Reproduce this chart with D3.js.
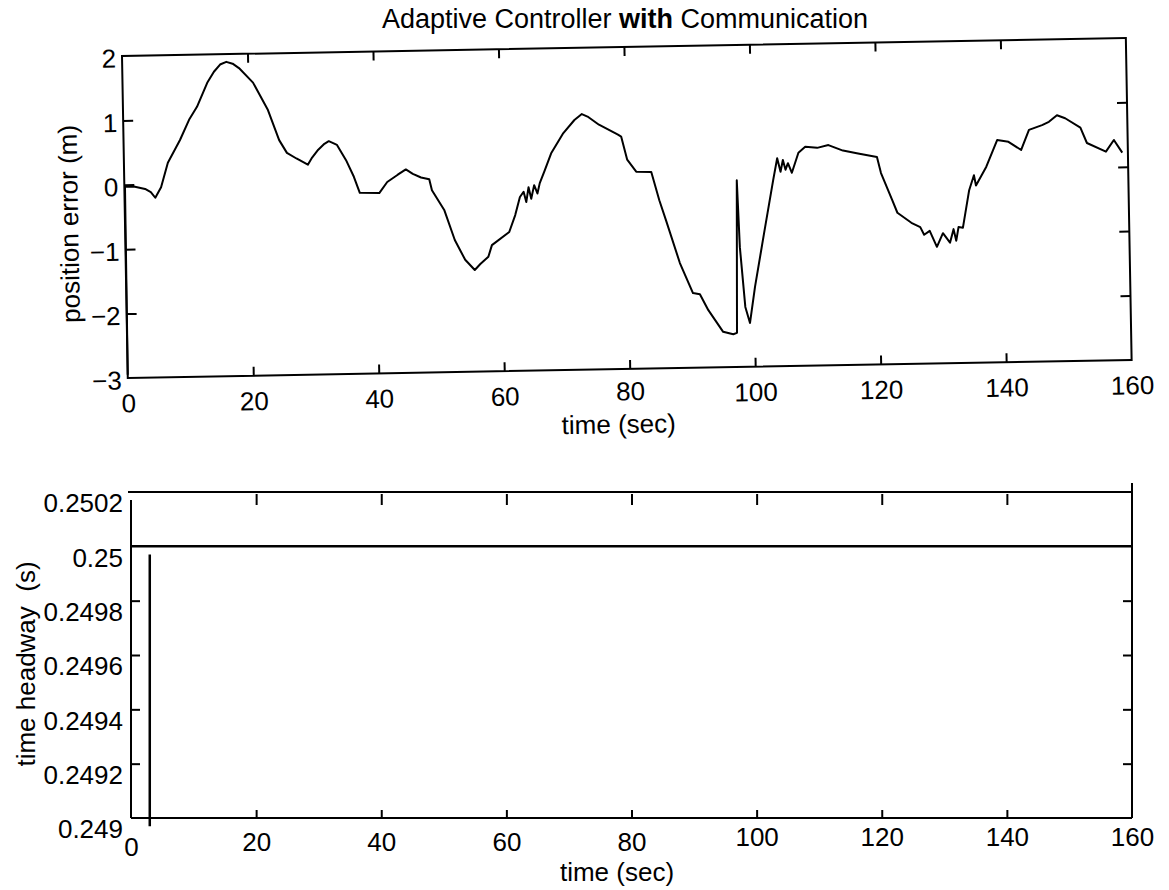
<!DOCTYPE html>
<html>
<head>
<meta charset="utf-8">
<script src="https://cdn.jsdelivr.net/npm/d3@7"></script>
<style>
  body { margin: 0; background: #fff; }
  text { font-family: "Liberation Sans", Arial, Helvetica, sans-serif; fill: #000; }
</style>
</head>
<body>
<div id="chart"></div>
<script>
// time axis ticks shared by both panels
const timeTicks = [0, 20, 40, 60, 80, 100, 120, 140, 160];

// top panel: position error (m) against time (sec)
const errTime = [0, 0.1, 1.5, 3.3, 4.2, 4.9, 5.85, 7.0, 9.0, 10.5, 11.8, 13.5, 14.6, 15.6, 16.6, 17.6, 18.6,
  20.8, 23.1, 24.8, 26.0, 27.5, 29.3, 30.0, 31.0, 32.0, 32.7, 34.0, 35.4, 36.6, 37.5, 40.6, 41.9, 43.6, 44.9,
  46.0, 47.3, 48.6, 49.0, 50.9, 52.5, 54.1, 55.6, 56.5, 57.8, 58.4, 61.2, 62.2, 63.0, 63.6, 64.0, 64.4, 64.8,
  65.3, 65.8, 66.2, 67.0, 68.1, 70.1, 71.9, 73.1, 74.0, 75.8, 78.8, 79.3, 80.2, 81.6, 84.0, 85.2, 86.2, 88.3,
  90.3, 91.4, 92.7, 95.0, 96.6, 97.2, 97.6, 97.9, 98.6, 99.3, 100.2, 101.8, 103.4, 104.1, 104.6, 105.0, 105.4,
  105.8, 106.4, 107.5, 108.6, 110.5, 112.3, 114.6, 117.0, 120.0, 120.6, 122.3, 123.1, 125.3, 126.7, 127.3,
  128.2, 129.3, 130.3, 131.4, 132.0, 132.4, 132.8, 133.5, 134.6, 135.4, 135.7, 137.4, 139.2, 141.0, 143.0,
  144.3, 146.4, 147.5, 148.8, 150.1, 152.5, 153.5, 156.5, 157.8, 159.1];
const errValue = [-2.95, -0.03, -0.03, -0.07, -0.12, -0.21, -0.05, 0.33, 0.68, 0.99, 1.19, 1.56, 1.73, 1.84, 1.88, 1.85, 1.78,
  1.55, 1.12, 0.65, 0.45, 0.36, 0.26, 0.37, 0.49, 0.58, 0.62, 0.56, 0.32, 0.06, -0.19, -0.2, -0.03, 0.08, 0.16,
  0.09, 0.03, 0.0, -0.17, -0.48, -0.95, -1.26, -1.42, -1.33, -1.22, -1.04, -0.84, -0.58, -0.3, -0.22, -0.38, -0.15, -0.33,
  -0.12, -0.25, -0.09, 0.1, 0.37, 0.68, 0.88, 0.97, 0.93, 0.80, 0.64, 0.61, 0.25, 0.06, 0.05, -0.39, -0.70, -1.37,
  -1.84, -1.86, -2.11, -2.45, -2.49, -2.47, -0.1, -1.14, -2.07, -2.32, -1.76, -0.93, -0.11, 0.23, 0.02, 0.2, 0.05,
  0.15, 0.0, 0.31, 0.40, 0.38, 0.42, 0.33, 0.28, 0.22, -0.03, -0.45, -0.65, -0.81, -0.88, -1.0,
  -0.94, -1.19, -0.98, -1.13, -0.92, -1.1, -0.89, -0.90, -0.32, -0.09, -0.25, 0.04, 0.45, 0.42, 0.29,
  0.60, 0.67, 0.72, 0.82, 0.77, 0.62, 0.38, 0.24, 0.42, 0.22];
const errTicks = [2, 1, 0, -1, -2, -3];

// bottom panel: time headway (s)
const headwayTicks = [0.2502, 0.25, 0.2498, 0.2496, 0.2494, 0.2492, 0.249];
const headwayTime = [0, 160];
const headwayValue = [0.25, 0.25];
const transientTime = [3.0, 3.0];
const transientValue = [0.24997, 0.24897];

const font = 26;
const svg = d3.select("#chart")
    .append("svg")
    .attr("width", 1169)
    .attr("height", 890);

// title, "with" in bold
const title = svg.append("text")
    .attr("x", 625)
    .attr("y", 28)
    .attr("text-anchor", "middle")
    .style("font-size", "27px");
title.append("tspan").text("Adaptive Controller ");
title.append("tspan").style("font-weight", "bold").text("with");
title.append("tspan").text(" Communication");

const minus = d => (d < 0 ? "\u2212" + Math.abs(d) : String(d));

function styleAxis(g, edgeValues) {
    g.select(".domain").remove();
    g.selectAll(".tick line").attr("stroke", "#000").attr("stroke-width", 2);
    g.selectAll(".tick").filter(d => edgeValues.includes(d)).select("line").remove();
    g.selectAll(".tick text")
        .attr("fill", "#000")
        .style("font-size", font + "px")
        .style("font-family", "'Liberation Sans', Arial, sans-serif");
}

// ---------- top panel (the scan is tilted about one degree) ----------
const w1 = 1004, h1 = 322;
const topPanel = svg.append("g").attr("transform", "translate(122,56) rotate(-1.03)");

const x1 = d3.scaleLinear().domain([0, 160]).range([0, w1]);
const y1 = d3.scaleLinear().domain([-3, 2]).range([h1, 0]);

topPanel.append("g")
    .attr("transform", `translate(0,${h1})`)
    .call(d3.axisBottom(x1).tickValues(timeTicks).tickSize(-9).tickSizeOuter(0).tickPadding(16))
    .call(g => styleAxis(g, [0, 160]))
    .selectAll(".tick text")
    .attr("y", d => (d === 80 ? 13 : 16));

topPanel.append("g")
    .call(d3.axisTop(x1).tickValues(timeTicks).tickSize(-9).tickSizeOuter(0).tickFormat(""))
    .call(g => styleAxis(g, [0, 160]));

topPanel.append("g")
    .call(d3.axisLeft(y1).tickValues(errTicks).tickSize(-10).tickSizeOuter(0).tickPadding(6).tickFormat(minus))
    .call(g => styleAxis(g, [2, -3]))
    .selectAll(".tick text").attr("dy", "0.42em");

topPanel.append("g")
    .attr("transform", `translate(${w1},0)`)
    .call(d3.axisRight(y1).tickValues(errTicks).tickSize(-10).tickSizeOuter(0).tickFormat(""))
    .call(g => styleAxis(g, [2, -3]));

topPanel.append("rect")
    .attr("width", w1)
    .attr("height", h1)
    .attr("fill", "none")
    .attr("stroke", "#000")
    .attr("stroke-width", 2);

const errLine = d3.line()
    .x(i => x1(errTime[i]))
    .y(i => y1(errValue[i]));

topPanel.append("path")
    .datum(d3.range(errTime.length))
    .attr("d", errLine)
    .attr("fill", "none")
    .attr("stroke", "#000")
    .attr("stroke-width", 2)
    .attr("stroke-linejoin", "round");

topPanel.append("text")
    .attr("transform", `translate(-56,${h1 / 2 + 6}) rotate(-90)`)
    .attr("text-anchor", "middle")
    .attr("dy", "0.35em")
    .style("font-size", font + "px")
    .text("position error (m)");

topPanel.append("text")
    .attr("x", 490)
    .attr("y", h1 + 64)
    .attr("text-anchor", "middle")
    .style("font-size", font + "px")
    .text("time (sec)");

// ---------- bottom panel ----------
const x2 = d3.scaleLinear().domain([0, 160]).range([131, 1132]);
const y2 = d3.scaleLinear().domain([0.249, 0.2502]).range([818, 492]);
const inner = headwayTicks.slice(2, 6);
// the scanned tick labels sit a little unevenly under the axis
const labelShift = t => (t === 0 ? 5 : t >= 100 ? -5 : 0);

svg.append("g")
    .attr("transform", "translate(0,818)")
    .call(d3.axisBottom(x2).tickValues(timeTicks).tickSize(-8).tickSizeOuter(0).tickPadding(15))
    .call(g => styleAxis(g, [0, 160]))
    .selectAll(".tick text")
    .attr("y", d => 15 + labelShift(d));

svg.append("g")
    .attr("transform", "translate(0,494)")
    .call(d3.axisTop(x2).tickValues(timeTicks.slice(1, 8)).tickSize(-11).tickSizeOuter(0).tickFormat(""))
    .call(g => styleAxis(g, []));

svg.append("g")
    .attr("transform", "translate(131,0)")
    .call(d3.axisLeft(y2).tickValues(headwayTicks).tickSize(-9).tickSizeOuter(0).tickPadding(8).tickFormat(d => String(d)))
    .call(g => styleAxis(g, [0.2502, 0.25, 0.249]))
    .selectAll(".tick text").attr("dy", "0.76em");

svg.append("g")
    .attr("transform", "translate(1132,0)")
    .call(d3.axisRight(y2).tickValues(inner).tickSize(-9).tickSizeOuter(0).tickFormat(""))
    .call(g => styleAxis(g, []));

// frame of the bottom panel
const frame = [
    [[128, 492], [1132, 492]],
    [[131, 818], [1132, 818]],
    [[131, 500], [131, 818]],
    [[1132, 483], [1132, 818]]
];
svg.append("g")
    .selectAll("path")
    .data(frame)
    .enter()
    .append("path")
    .attr("d", d => d3.line()(d))
    .attr("stroke", "#000")
    .attr("stroke-width", 2);

const headLine = d3.line()
    .x(p => x2(p[0]))
    .y(p => y2(p[1]));

svg.append("path")
    .datum(d3.zip(headwayTime, headwayValue))
    .attr("d", headLine)
    .attr("fill", "none")
    .attr("stroke", "#000")
    .attr("stroke-width", 2.5);

svg.append("path")
    .datum(d3.zip(transientTime, transientValue))
    .attr("d", headLine)
    .attr("fill", "none")
    .attr("stroke", "#000")
    .attr("stroke-width", 2.5);

svg.append("text")
    .attr("transform", "translate(26,664) rotate(-90)")
    .attr("text-anchor", "middle")
    .attr("dy", "0.35em")
    .style("font-size", font + "px")
    .style("white-space", "pre")
    .text("time headway  (s)");

svg.append("text")
    .attr("x", 617)
    .attr("y", 881)
    .attr("text-anchor", "middle")
    .style("font-size", font + "px")
    .text("time (sec)");
</script>
</body>
</html>
